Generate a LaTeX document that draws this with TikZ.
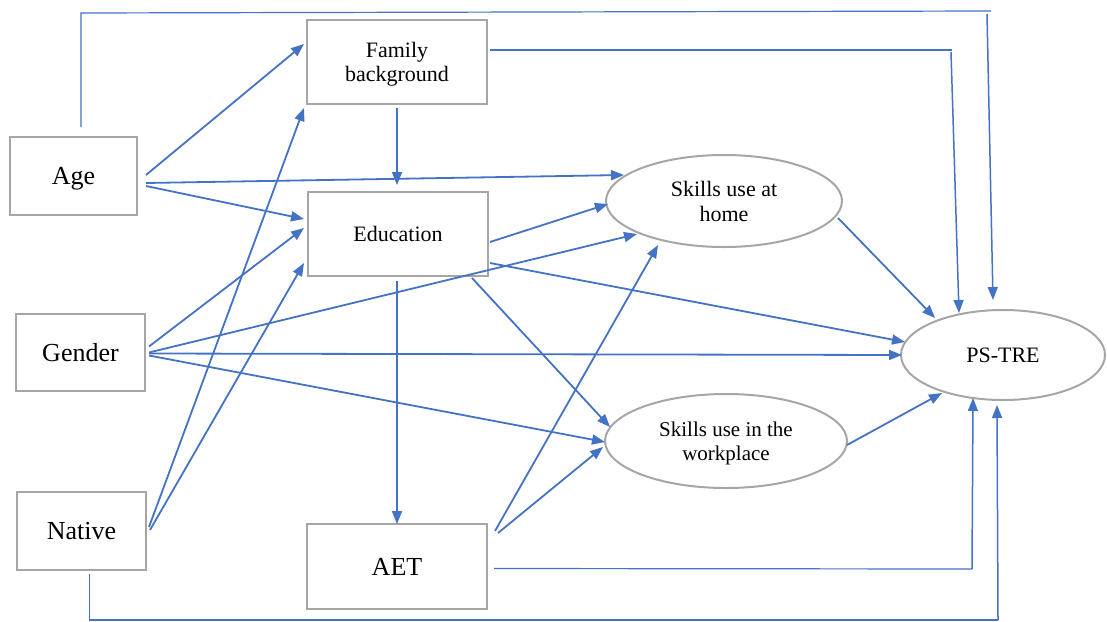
\documentclass[tikz,border=0pt]{standalone}
\usepackage{fontspec}
\setmainfont{Liberation Serif}
\usetikzlibrary{arrows.meta,shapes.geometric}
\definecolor{lineblue}{HTML}{4472C4}
\definecolor{boxgray}{HTML}{A6A6A6}
\begin{document}
\begin{tikzpicture}[x=1pt,y=-1pt,
  varbox/.style={draw=boxgray,line width=2pt,rectangle,inner sep=0pt,align=center,text depth=0pt},
  bigbox/.style={varbox,font=\fontsize{26}{30}\selectfont},
  midbox/.style={varbox,font=\fontsize{22}{24.5}\selectfont},
  oval/.style={draw=boxgray,line width=2pt,ellipse,inner sep=0pt,align=center,font=\fontsize{22}{25}\selectfont},
  arr/.style={draw=lineblue,line width=1.8pt,-{Triangle[length=13pt,width=10pt]}},
  thinline/.style={draw=lineblue,line width=1.2pt},
  thinarr/.style={draw=lineblue,line width=1.5pt,-{Triangle[length=13pt,width=10pt]}}]
\useasboundingbox (0,0) rectangle (1107,621);
% nodes
\node[bigbox,minimum width=127pt,minimum height=78pt] (age) at (73.5,176) {Age};
\node[bigbox,minimum width=129pt,minimum height=77pt] (gender) at (80.5,352.5) {Gender};
\node[bigbox,minimum width=129pt,minimum height=78pt] (native) at (81.5,531) {Native};
\node[midbox,minimum width=180pt,minimum height=84pt] (fam) at (397,62) {Family\\background};
\node[midbox,minimum width=180pt,minimum height=84pt] (edu) at (398,234) {Education};
\node[bigbox,minimum width=180pt,minimum height=85pt] (aet) at (397,566.5) {AET};
\node[oval,minimum width=236pt,minimum height=92pt] (home) at (724,201) {Skills use at\\home};
\node[oval,minimum width=242pt,minimum height=94pt,text depth=0pt,font=\fontsize{21}{24}\selectfont] (work) at (726,441) {Skills use in the\\workplace};
\node[oval,minimum width=204pt,minimum height=90pt] (ps) at (1003,355) {PS-TRE};
% elbow coordinates
\coordinate (ageUp) at (81,13);
\coordinate (ageRight) at (991,11);
\coordinate (ageDown) at (987,14);
\coordinate (famRight) at (952,50);
\coordinate (famDown) at (951,52);
\coordinate (aetRight) at (972,569);
\coordinate (natDown) at (89.5,620);
\coordinate (natRight) at (998,620);
% straight arrows
\draw[arr] ([shift={(8,-1)}]age.east) -- ([shift={(-2,-18)}]fam.west);
\draw[arr] ([shift={(8,7)}]age.east) -- ([shift={(-100,-26)}]home.center);
\draw[arr] ([shift={(8,10)}]age.east) -- ([shift={(-3,-15)}]edu.west);
\draw[arr] ([shift={(0,3)}]fam.south) -- ([shift={(-1,-6)}]edu.north);
\draw[arr] ([shift={(2,-4)}]native.east) -- ([shift={(-2,3)}]fam.south west);
\draw[arr] ([shift={(3,-1)}]native.east) -- ([shift={(-3,29)}]edu.west);
\draw[arr] ([shift={(3,-6)}]gender.east) -- ([shift={(-3,-6)}]edu.west);
\draw[arr] ([shift={(3,0)}]gender.east) -- ([shift={(-87,33)}]home.center);
\draw[arr] ([shift={(3,1)}]gender.east) -- ([shift={(-101,0)}]ps.center);
\draw[arr] ([shift={(3,3)}]gender.east) -- ([shift={(-121,1)}]work.center);
\draw[arr] ([shift={(1,8)}]edu.east) -- ([shift={(-116,3)}]home.center);
\draw[arr] ([shift={(1,29)}]edu.east) -- ([shift={(-98,-13)}]ps.center);
\draw[arr] ([shift={(74,1)}]edu.south) -- ([shift={(-116,-14)}]work.center);
\draw[arr] ([shift={(-1,4)}]edu.south) -- ([shift={(0,1)}]aet.north);
\draw[arr] ([shift={(7,-35.5)}]aet.east) -- ([shift={(-66,44)}]home.center);
\draw[arr] ([shift={(10,-33.5)}]aet.east) -- ([shift={(-123,6)}]work.center);
\draw[arr] ([shift={(114,17)}]home.center) -- ([shift={(-68,-37)}]ps.center);
\draw[arr] ([shift={(121,4)}]work.center) -- ([shift={(-61,38)}]ps.center);
% elbow connectors
\draw[thinline] ([shift={(7.5,-9)}]age.north) -- (ageUp) -- (ageRight);
\draw[thinarr] (ageDown) -- ([shift={(-10,-55)}]ps.center);
\draw[thinline] ([shift={(2,-12)}]fam.east) -- (famRight);
\draw[thinarr] (famDown) -- ([shift={(-44,-42)}]ps.center);
\draw[thinline] ([shift={(6,2)}]aet.east) -- (aetRight);
\draw[thinarr] (aetRight) -- ([shift={(-30,43)}]ps.center);
\draw[thinline] ([shift={(8,3)}]native.south) -- (natDown) -- (natRight);
\draw[thinarr] (natRight) -- ([shift={(-6,50)}]ps.center);
\end{tikzpicture}
\end{document}
